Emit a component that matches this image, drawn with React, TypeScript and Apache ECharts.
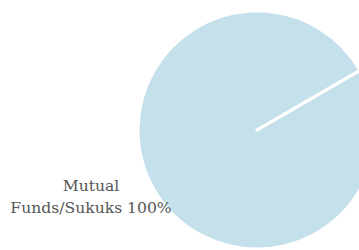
import React, { useEffect, useRef } from "react";
import * as echarts from "echarts";

const categories = ["Mutual Funds/Sukuks", ""];
const values = [100, 0.01];
const labels = ["Mutual\nFunds/Sukuks 100%", ""];

export default function App() {
  const ref = useRef<HTMLDivElement>(null);
  useEffect(() => {
    const chart = echarts.init(ref.current!, null, { renderer: "svg" });
    chart.setOption({
      animation: false,
      series: [
        {
          type: "pie",
          center: [257, 130],
          radius: 119,
          startAngle: 30,
          clockwise: true,
          silent: true,
          itemStyle: { color: "#c3e0eb", borderColor: "#ffffff", borderWidth: 3 },
          labelLine: { show: false },
          data: categories.map((c, i) => ({
            name: c,
            value: values[i],
            label: {
              show: i === 0,
              formatter: labels[i],
            },
          })),
          label: {
            position: "outside",
            fontFamily: "DejaVu Serif",
            fontSize: 15.6,
            lineHeight: 22,
            color: "#555555",
            align: "center",
            overflow: "none",
            width: 300,
          },
          labelLayout: { x: 91, y: 197, align: "center", verticalAlign: "middle" },
        },
      ],
    });
    return () => chart.dispose();
  }, []);
  return (
    <div
      ref={ref}
      style={{ position: "absolute", left: 0, top: 0, width: 359, height: 250 }}
    />
  );
}
